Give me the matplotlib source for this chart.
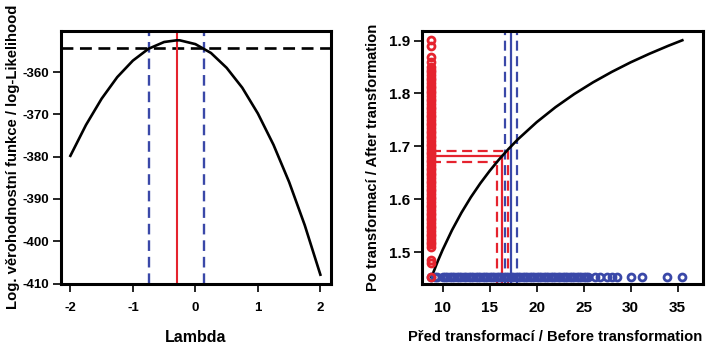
import matplotlib
matplotlib.use("Agg")
import matplotlib.pyplot as plt

plt.rcParams['font.family'] = ['Liberation Sans', 'DejaVu Sans']
plt.rcParams['font.weight'] = 'bold'
plt.rcParams['axes.unicode_minus'] = False

RED = '#e5232e'
BLUE = '#3a48a8'

# ---- Box-Cox profile log-likelihood ----
lam = [-2.0, -1.75, -1.5, -1.25, -1.0, -0.75, -0.5, -0.3, -0.25, 0.0,
       0.25, 0.5, 0.75, 1.0, 1.25, 1.5, 1.75, 2.0]
loglik = [-379.8, -372.5, -366.3, -361.2, -357.3, -354.5, -352.9, -352.5, -352.5, -353.4,
          -355.5, -359.0, -363.7, -369.8, -377.2, -386.0, -396.2, -407.9]
lam_best = -0.30
lam_ci = [-0.75, 0.13]
loglik_cut = -354.4
lam_ticks = [-2, -1, 0, 1, 2]
ll_ticks = [-360, -370, -380, -390, -400, -410]

# ---- transformation curve ----
curve_x = [8.8, 9.5, 10, 11, 12, 13, 14, 15, 16, 17, 18, 20, 22, 24, 26, 28, 30, 32, 34, 35.5]
curve_y = [1.4525, 1.4840, 1.5047, 1.5420, 1.5748, 1.6040, 1.6301, 1.6537, 1.6753, 1.6950,
           1.7133, 1.7457, 1.7740, 1.7989, 1.8210, 1.8408, 1.8588, 1.8750, 1.8900, 1.9005]

# original values (shown along the bottom)
before = [8.8, 9.2, 9.4,
          10.0, 10.25, 10.5, 10.75, 11.0, 11.25, 11.5, 11.75, 12.0, 12.25, 12.5, 12.75,
          13.0, 13.25, 13.5, 13.75, 14.0, 14.25, 14.5, 14.75, 15.0, 15.25, 15.5, 15.75,
          16.0, 16.25, 16.5, 16.75, 17.0, 17.25, 17.5, 17.75, 18.0, 18.25, 18.5, 18.75,
          19.0, 19.25, 19.5, 19.75, 20.0, 20.25, 20.5, 20.75, 21.0, 21.25, 21.5, 21.75,
          22.0, 22.25, 22.5, 22.75, 23.0, 23.25, 23.5, 23.75, 24.0, 24.25, 24.5, 24.75,
          25.0, 25.25, 25.5,
          26.26, 26.79, 27.5, 28.04, 28.57, 29.99, 31.24, 33.9, 35.5]
before_y = 1.4525

# transformed values (shown along the left)
after = [1.4525, 1.479, 1.485,
         1.510, 1.515, 1.520, 1.525, 1.530, 1.535, 1.540, 1.545, 1.550, 1.555, 1.560, 1.565,
         1.570, 1.575, 1.580, 1.585, 1.590, 1.595, 1.600, 1.605, 1.610, 1.615, 1.620, 1.625,
         1.630, 1.635, 1.640, 1.645, 1.650, 1.655, 1.660, 1.665, 1.670, 1.675, 1.680, 1.685,
         1.690, 1.695, 1.700, 1.705, 1.710, 1.715, 1.720, 1.725, 1.730, 1.735, 1.740, 1.745,
         1.750, 1.755, 1.760, 1.765, 1.770, 1.775, 1.780, 1.785, 1.790, 1.795, 1.800, 1.805,
         1.810, 1.815, 1.820, 1.825, 1.830, 1.835, 1.840, 1.845, 1.850,
         1.859, 1.869, 1.890, 1.9005]
after_x = 8.8

# mean on the transformed scale with its interval, and back-transformed values
mean_t = [1.670, 1.682, 1.692]
mean_bt = [15.75, 16.33, 16.9]
mean_orig = [16.68, 17.28, 17.92]
x_ticks = [10, 15, 20, 25, 30, 35]
y_ticks = [1.5, 1.6, 1.7, 1.8, 1.9]

fig = plt.figure(figsize=(7.09, 3.47), dpi=100)
W, H = 709, 347

def px_axes(x0, y0, x1, y1):
    return fig.add_axes([x0 / W, 1 - y1 / H, (x1 - x0) / W, (y1 - y0) / H])

ax1 = px_axes(61, 31, 331, 284)
ax2 = px_axes(422, 31, 703, 284)

for ax in (ax1, ax2):
    for s in ax.spines.values():
        s.set_linewidth(2.2)
    ax.tick_params(direction='out', length=6, width=1.2)

DASH = (0, (4.5, 2.5))

# left panel
ax1.plot(lam, loglik, color='black', lw=1.9, zorder=3)
ax1.axhline(loglik_cut, color='black', lw=1.9, ls=DASH, zorder=2)
for v in lam_ci:
    ax1.axvline(v, color=BLUE, lw=1.7, ls=DASH, zorder=2)
ax1.axvline(lam_best, color=RED, lw=1.5, zorder=2)
ax1.set_xlim(-2.15, 2.17)
ax1.set_ylim(-410.1, -350.3)
ax1.set_xticks(lam_ticks)
ax1.set_yticks(ll_ticks)
ax1.set_xticklabels([str(t) for t in lam_ticks], fontsize=9.5, fontweight='bold')
ax1.set_yticklabels([str(t) for t in ll_ticks], fontsize=9.5, fontweight='bold')
ax1.tick_params(axis='x', pad=7)
ax1.tick_params(axis='y', pad=2.5)
ax1.text(0.5, -0.21, 'Lambda', transform=ax1.transAxes, ha='center', va='center',
         fontsize=11.5, fontweight='bold')
ax1.text(-0.178, 0.504, 'Log. věrohodnostní funkce / log-Likelihood', transform=ax1.transAxes,
         ha='center', va='center', rotation=90, fontsize=10.7, fontweight='bold')

# right panel
ax2.set_xlim(7.8, 37.7)
ax2.set_ylim(1.440, 1.918)
for v, ls in zip(mean_orig, [DASH, '-', DASH]):
    ax2.axvline(v, color=BLUE, lw=1.6, ls=ls, zorder=2)
ybot = ax2.get_ylim()[0]
for yt, xb, ls in zip(mean_t, mean_bt, [DASH, '-', DASH]):
    ax2.plot([after_x, xb], [yt, yt], color=RED, lw=1.6, ls=ls, zorder=2)
    ax2.plot([xb, xb], [ybot, yt], color=RED, lw=1.6, ls=ls, zorder=2)
ax2.plot(curve_x, curve_y, color='black', lw=1.9, zorder=3)
ax2.plot(before, [before_y] * len(before), ls='none', marker='o', ms=5.0, mfc='none',
         mec=BLUE, mew=2.0, zorder=4, clip_on=False)
ax2.plot([after_x] * len(after), after, ls='none', marker='o', ms=5.0, mfc='none',
         mec=RED, mew=2.0, zorder=4, clip_on=False)
ax2.set_xticks(x_ticks)
ax2.set_yticks(y_ticks)
ax2.set_xticklabels([str(t) for t in x_ticks], fontsize=11, fontweight='bold')
ax2.set_yticklabels(['%.1f' % t for t in y_ticks], fontsize=11, fontweight='bold')
ax2.tick_params(axis='x', pad=6)
ax2.tick_params(axis='y', pad=2.5)
ax2.text(0.475, -0.21, 'Před transformací / Before transformation', transform=ax2.transAxes,
         ha='center', va='center', fontsize=10.6, fontweight='bold')
ax2.text(-0.173, 0.5, 'Po transformací / After transformation', transform=ax2.transAxes,
         ha='center', va='center', rotation=90, fontsize=10.6, fontweight='bold')

fig.savefig('out.png', dpi=100)
